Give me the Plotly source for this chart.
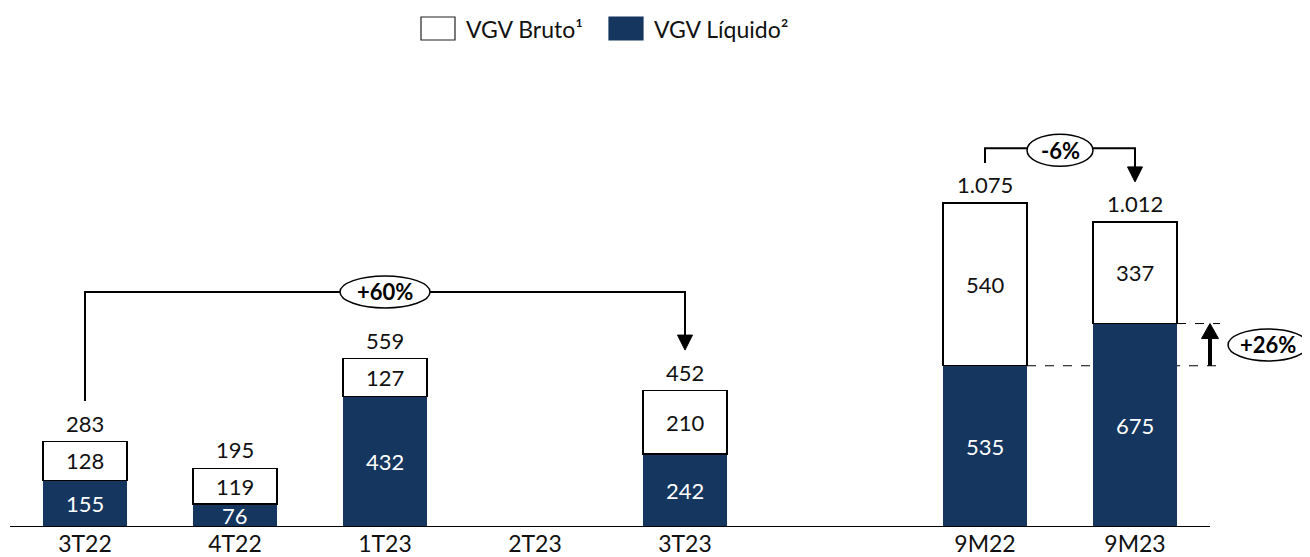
import plotly.graph_objects as go

# ---------------- data ----------------
categories = ["3T22", "4T22", "1T23", "2T23", "3T23", "", "9M22", "9M23"]
vgv_liquido = [155, 76, 432, None, 242, None, 535, 675]
vgv_bruto_extra = [128, 119, 127, None, 210, None, 540, 337]
vgv_bruto_total = [283, 195, 559, None, 452, None, 1075, 1012]
legend_labels = ["VGV Bruto¹", "VGV Líquido²"]
growth_labels = ["+60%", "-6%", "+26%"]

NAVY = "#14365F"
FONT = "Lato"
TXT = "#111111"
xs = list(range(len(categories)))

# page body has an 8px default margin: compensate
OFF = 8
W, H = 1310 - OFF, 557 - OFF
BASE_PX = 527 - OFF      # baseline (y=0) in figure pixels
TOP_PX = 60 - OFF
LEFT_PX = 10 - OFF

fig = go.Figure()
fig.add_trace(go.Bar(x=xs, y=vgv_liquido, marker=dict(color=NAVY, line=dict(color=NAVY, width=0)),
                     width=0.56, showlegend=False, hoverinfo="skip"))
fig.add_trace(go.Bar(x=xs, y=vgv_bruto_extra, marker=dict(color="white", line=dict(color="black", width=1.3)),
                     width=0.56, showlegend=False, hoverinfo="skip"))

ann = []
for i, (liq, ext, tot) in enumerate(zip(vgv_liquido, vgv_bruto_extra, vgv_bruto_total)):
    if liq is None:
        continue
    ann.append(dict(x=i, y=liq / 2, text=str(liq), showarrow=False,
                    font=dict(family=FONT, size=22, color="white")))
    ann.append(dict(x=i, y=liq + ext / 2, text=str(ext), showarrow=False,
                    font=dict(family=FONT, size=22, color=TXT)))
    ann.append(dict(x=i, y=tot, text=f"{tot:,}".replace(",", "."), showarrow=False,
                    yanchor="bottom", yshift=3, font=dict(family=FONT, size=22, color=TXT)))

# unit helpers (pixel -> data)
PX_X = 1 / 150.0
PX_Y = 1 / 0.3014

shapes = []
# baseline
shapes.append(dict(type="line", x0=-0.5, x1=7.5, y0=0, y1=0, line=dict(color="black", width=2)))

def down_arrow_bracket(x0, x1, y_bottom, y_line, y_tip):
    head_h = 15 * PX_Y
    head_w = 7.5 * PX_X
    shapes.append(dict(type="path",
                       path=f"M {x0},{y_bottom} L {x0},{y_line} L {x1},{y_line} L {x1},{y_tip + head_h}",
                       line=dict(color="black", width=2)))
    shapes.append(dict(type="path",
                       path=f"M {x1 - head_w},{y_tip + head_h} L {x1 + head_w},{y_tip + head_h} L {x1},{y_tip} Z",
                       fillcolor="black", line=dict(color="black", width=1)))

def bubble(xc, yc, half_w_px, half_h_px, text):
    shapes.append(dict(type="circle", x0=xc - half_w_px * PX_X, x1=xc + half_w_px * PX_X,
                       y0=yc - half_h_px * PX_Y, y1=yc + half_h_px * PX_Y,
                       fillcolor="white", line=dict(color="black", width=1.5)))
    ann.append(dict(x=xc, y=yc, text=f"<b>{text}</b>", showarrow=False,
                    font=dict(family=FONT, size=22, color="black")))

# +60% bracket (3T22 -> 3T23)
down_arrow_bracket(0, 4, 418, 780, 587)
bubble(2.0, 780, 45, 16, growth_labels[0])

# -6% bracket (9M22 -> 9M23)
down_arrow_bracket(6, 7, 1208, 1257, 1145)
bubble(6.5, 1250, 33, 16, growth_labels[1])

# +26% dashed guides and up arrow
x_end = 7.567
shapes.append(dict(type="line", x0=6.28, x1=x_end, y0=vgv_liquido[6], y1=vgv_liquido[6], layer="below",
                   line=dict(color="black", width=1, dash="dash")))
shapes.append(dict(type="line", x0=7.28, x1=x_end, y0=vgv_liquido[7], y1=vgv_liquido[7],
                   line=dict(color="black", width=1, dash="dash")))
ax = 7.5
head_h = 15 * PX_Y
shapes.append(dict(type="line", x0=ax, x1=ax, y0=vgv_liquido[6], y1=vgv_liquido[7] - head_h,
                   line=dict(color="black", width=4)))
shapes.append(dict(type="path",
                   path=f"M {ax - 8.5 * PX_X},{vgv_liquido[7] - head_h} L {ax + 8.5 * PX_X},{vgv_liquido[7] - head_h} L {ax},{vgv_liquido[7]} Z",
                   fillcolor="black", line=dict(color="black", width=1)))
bubble(7.887, 604, 40, 16, growth_labels[2])

# custom legend (paper coords converted from page pixels)
PLOT_W = W - LEFT_PX
PLOT_H = BASE_PX - TOP_PX
def px2paper_x(px):
    return (px - OFF - LEFT_PX) / PLOT_W
def px2paper_y(py):
    return (BASE_PX - (py - OFF)) / PLOT_H

leg = [(421, 455, legend_labels[0], "white"), (609, 643, legend_labels[1], NAVY)]
for x0p, x1p, lab, col in leg:
    shapes.append(dict(type="rect", xref="paper", yref="paper",
                       x0=px2paper_x(x0p), x1=px2paper_x(x1p), y0=px2paper_y(40), y1=px2paper_y(17),
                       fillcolor=col, line=dict(color="#222222" if col == "white" else NAVY, width=1.2)))
    ann.append(dict(xref="paper", yref="paper", x=px2paper_x(x1p + 9), y=px2paper_y(29),
                    xanchor="left", yanchor="middle", text=lab, showarrow=False,
                    font=dict(family=FONT, size=23, color=TXT)))

fig.update_layout(
    barmode="stack",
    width=W, height=H,
    margin=dict(l=LEFT_PX, r=0, t=TOP_PX, b=H - BASE_PX, pad=0),
    plot_bgcolor="white", paper_bgcolor="white",
    xaxis=dict(range=[-0.5, -0.5 + PLOT_W / 150.0], tickvals=[0, 1, 2, 3, 4, 6, 7],
               ticktext=[c for c in categories if c], showgrid=False, zeroline=False,
               showline=False, ticks="", ticklabelstandoff=1, automargin=False,
               tickfont=dict(family=FONT, size=23, color=TXT), fixedrange=True),
    yaxis=dict(range=[0, PLOT_H / 0.3014], visible=False, fixedrange=True, automargin=False),
    shapes=shapes, annotations=ann,
    font=dict(family=FONT),
)

fig.write_html("out.html")
